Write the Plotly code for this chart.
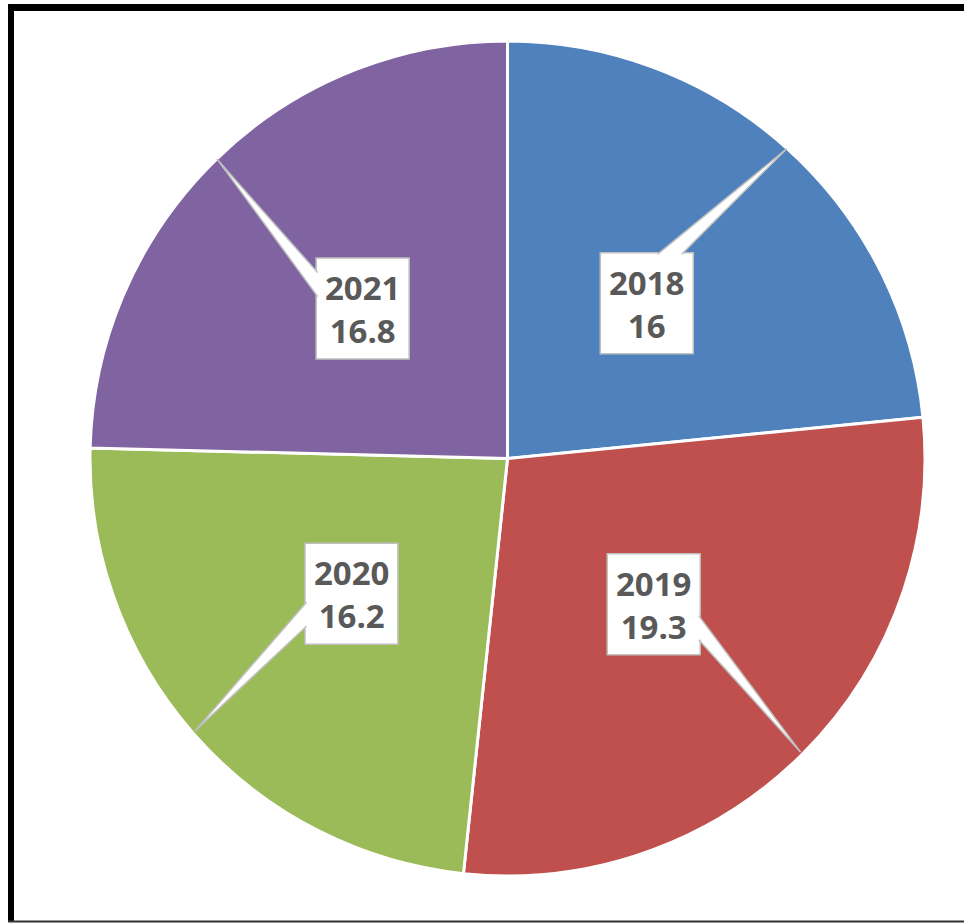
import math
import plotly.graph_objects as go

# Share by year (%)
years = ["2018", "2019", "2020", "2021"]
values = [16, 19.3, 16.2, 16.8]
colors = ["#4F81BD", "#C0504D", "#9BBB59", "#8064A2"]

W, H = 964, 923
CX, CY, R = 507.5, 457.0, 415.0  # pie centre and radius in pixels


def px(x):
    return x / W


def py(y):
    return 1 - y / H


# plotly draws the pie a touch inside its domain, so pad the domain slightly
RD, CYD = R + 2.5, CY + 1.5
fig = go.Figure(
    go.Pie(
        labels=years,
        values=values,
        sort=False,
        direction="clockwise",
        rotation=0,
        marker=dict(colors=colors, line=dict(color="white", width=3)),
        textinfo="none",
        hoverinfo="label+value",
        showlegend=False,
        domain=dict(x=[px(CX - RD), px(CX + RD)], y=[py(CYD + RD), py(CYD - RD)]),
    )
)

shapes = []
annotations = []

# callout boxes: centred at half radius on each slice's mid angle,
# with a pointer wedge reaching out to the rim
BW, BH = 93, 101
hw, hh = BW / 2, BH / 2
total = sum(values)
start = 0.0
for yr, v in zip(years, values):
    span = v / total * 360
    mid = math.radians(start + span / 2)
    start += span
    sx, sy = math.sin(mid), -math.cos(mid)
    bx, by = CX + R / 2 * sx, CY + R / 2 * sy
    tx, ty = CX + (R + 1) * sx, CY + (R + 1) * sy

    shapes.append(dict(type="rect", xref="paper", yref="paper",
                       x0=px(bx - hw), x1=px(bx + hw), y0=py(by + hh), y1=py(by - hh),
                       fillcolor="white", line=dict(color="#BFBFBF", width=1.5), layer="above"))

    dx, dy = tx - bx, ty - by
    t_v = hw / abs(dx) if dx else 1e9
    t_h = hh / abs(dy) if dy else 1e9
    half = 12
    if t_v < t_h:
        ex = bx + math.copysign(hw - 1.5, dx)
        cy_ = (by + (by + t_v * dy)) / 2
        b1, b2 = (ex, cy_ - half), (ex, cy_ + half)
    else:
        ey = by + math.copysign(hh - 1.5, dy)
        cx_ = (bx + (bx + t_h * dx)) / 2
        b1, b2 = (cx_ - half, ey), (cx_ + half, ey)

    fill_path = (f"M {px(b1[0])},{py(b1[1])} L {px(tx)},{py(ty)} "
                 f"L {px(b2[0])},{py(b2[1])} Z")
    shapes.append(dict(type="path", xref="paper", yref="paper", path=fill_path,
                       fillcolor="white", line=dict(width=0), layer="above"))
    edge_path = (f"M {px(b1[0])},{py(b1[1])} L {px(tx)},{py(ty)} "
                 f"L {px(b2[0])},{py(b2[1])}")
    shapes.append(dict(type="path", xref="paper", yref="paper", path=edge_path,
                       fillcolor="rgba(0,0,0,0)", line=dict(color="#BFBFBF", width=1.5),
                       layer="above"))

    annotations.append(dict(x=px(bx), y=py(by + 0.5), xref="paper", yref="paper",
                            text=f"<b>{yr}</b><br><b>{v:g}</b>", showarrow=False,
                            xanchor="center", yanchor="middle",
                            font=dict(family="Open Sans", size=33, color="#595959")))

# chart frame
shapes += [
    dict(type="line", xref="paper", yref="paper", x0=px(8), x1=px(980), y0=py(7.5), y1=py(7.5),
         line=dict(color="black", width=7), layer="above"),
    dict(type="line", xref="paper", yref="paper", x0=px(11), x1=px(11), y0=py(4), y1=py(922),
         line=dict(color="black", width=6), layer="above"),
    dict(type="line", xref="paper", yref="paper", x0=px(8), x1=px(980), y0=py(921.5), y1=py(921.5),
         line=dict(color="#333333", width=2), layer="above"),
]

fig.update_layout(
    width=W, height=H,
    margin=dict(l=0, r=0, t=0, b=0),
    paper_bgcolor="white", plot_bgcolor="white",
    shapes=shapes, annotations=annotations,
)

fig.write_html("out.html")
